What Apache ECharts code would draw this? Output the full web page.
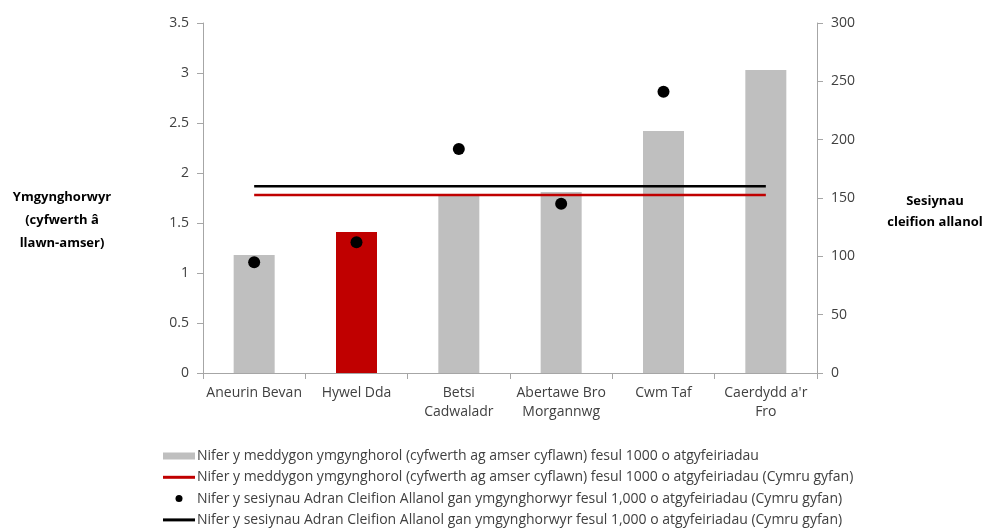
<!DOCTYPE html>
<html>
<head>
<meta charset="utf-8">
<script src="https://cdn.jsdelivr.net/npm/echarts@6/dist/echarts.min.js"></script>
<style>html,body{margin:0;padding:0;background:#fff}#c{width:989px;height:529px}</style>
</head>
<body>
<div id="c"></div>
<script>
var categories = ['Aneurin Bevan', 'Hywel Dda', 'Betsi\nCadwaladr', 'Abertawe Bro\nMorgannwg', 'Cwm Taf', "Caerdydd a'r\nFro"];
var consultants = [1.18, 1.41, 1.78, 1.81, 2.42, 3.03];
var consultantsWales = [1.78, 1.78, 1.78, 1.78, 1.78, 1.78];
var sessions = [95, 112, 192, 145, 241, null];
var sessionsWales = [160, 160, 160, 160, 160, 160];
var leftTicks = [0, 3.5, 0.5];
var rightTicks = [0, 300, 50];
var names = [
  'Nifer y meddygon ymgynghorol (cyfwerth ag amser cyflawn) fesul 1000 o atgyfeiriadau',
  'Nifer y meddygon ymgynghorol (cyfwerth ag amser cyflawn) fesul 1000 o atgyfeiriadau (Cymru gyfan)',
  'Nifer y sesiynau Adran Cleifion Allanol gan ymgynghorwyr fesul 1,000 o atgyfeiriadau (Cymru gyfan)',
  'Nifer y sesiynau Adran Cleifion Allanol gan ymgynghorwyr fesul 1,000 o atgyfeiriadau (Cymru gyfan) '
];
var highlight = 'Hywel Dda';

var font = '"Open Sans", Lato, sans-serif';
var chart = echarts.init(document.getElementById('c'), null, {renderer: 'canvas'});
var axisColor = '#a6a6a6';
var axisLine = {show: true, lineStyle: {color: axisColor, width: 1}};
var tick = {show: true, length: 6, lineStyle: {color: axisColor}};
var labelStyle = {color: '#404040', fontSize: 14, fontFamily: font};
var option = {
  animation: false,
  textStyle: {fontFamily: font},
  grid: {left: 203, right: 172, top: 23, bottom: 156},
  xAxis: {
    type: 'category',
    data: categories,
    boundaryGap: true,
    axisLine: axisLine,
    axisTick: tick,
    axisLabel: Object.assign({lineHeight: 19, margin: 11, interval: 0}, labelStyle)
  },
  yAxis: [{
    type: 'value', min: leftTicks[0], max: leftTicks[1], interval: leftTicks[2],
    position: 'left',
    axisLine: axisLine, axisTick: tick,
    splitLine: {show: false},
    axisLabel: Object.assign({margin: 14}, labelStyle)
  }, {
    type: 'value', min: rightTicks[0], max: rightTicks[1], interval: rightTicks[2],
    position: 'right',
    axisLine: axisLine, axisTick: tick,
    splitLine: {show: false},
    axisLabel: Object.assign({margin: 14}, labelStyle)
  }],
  legend: {
    orient: 'vertical',
    left: 163, top: 448, height: 90, padding: 0,
    itemWidth: 32, itemHeight: 7, itemGap: 5.3,
    textStyle: {color: '#404040', fontSize: 14, fontFamily: font, lineHeight: 16, padding: [0, 0, 0, -3]},
    data: [
      {name: names[0], icon: 'rect'},
      {name: names[1], icon: 'path://M0,0H32V3H0Z'},
      {name: names[2], icon: 'circle'},
      {name: names[3], icon: 'path://M0,0H32V3H0Z'}
    ]
  },
  series: [{
    name: names[0], type: 'bar', yAxisIndex: 0, barWidth: 41,
    itemStyle: {color: '#bfbfbf'},
    data: consultants.map(function (v, i) {
      return categories[i] === highlight ? {value: v, itemStyle: {color: '#c00000'}} : v;
    }),
    z: 1
  }, {
    name: names[1], type: 'line', yAxisIndex: 0, symbol: 'none',
    lineStyle: {color: '#c00000', width: 2.5}, itemStyle: {color: '#c00000'},
    data: consultantsWales, z: 3
  }, {
    name: names[2], type: 'scatter', yAxisIndex: 1, symbol: 'circle', symbolSize: 12,
    itemStyle: {color: '#000', opacity: 1}, data: sessions, z: 5
  }, {
    name: names[3], type: 'line', yAxisIndex: 1, symbol: 'none',
    lineStyle: {color: '#000', width: 2.5}, itemStyle: {color: '#000'},
    data: sessionsWales, z: 4
  }],
  graphic: [{
    type: 'text', x: 62, y: 220,
    style: {text: 'Ymgynghorwyr\n(cyfwerth â\nllawn-amser)', align: 'center', verticalAlign: 'middle',
      font: 'bold 13px ' + font, lineHeight: 23, fill: '#000'}
  }, {
    type: 'text', x: 935, y: 212,
    style: {text: 'Sesiynau\ncleifion allanol', align: 'center', verticalAlign: 'middle',
      font: 'bold 13px ' + font, lineHeight: 21, fill: '#000'}
  }]
};
chart.setOption(option);
</script>
</body>
</html>
